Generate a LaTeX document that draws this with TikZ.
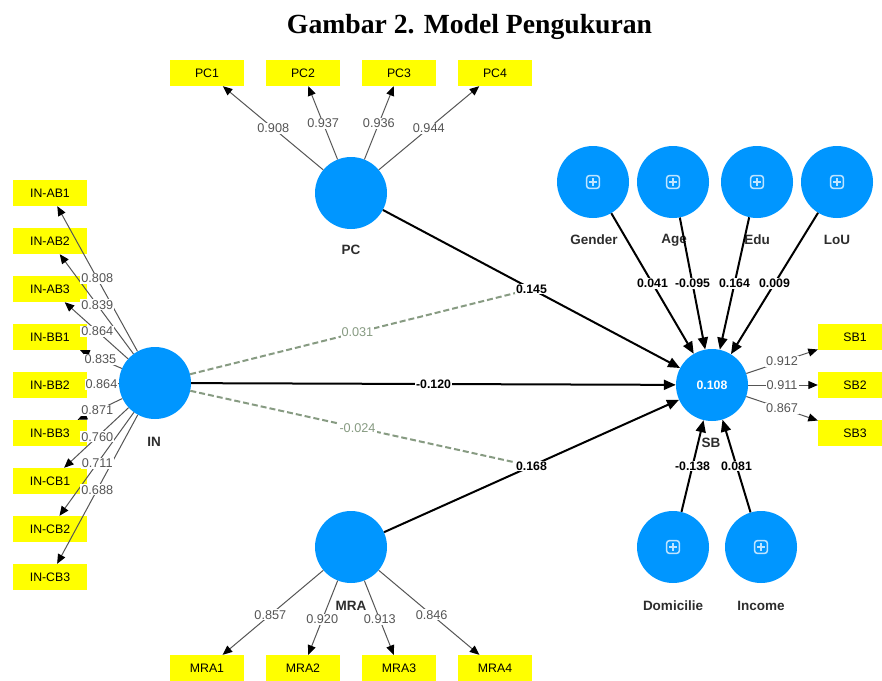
\documentclass[tikz,border=0pt]{standalone}
\usepackage{graphicx}
\usepackage{fontspec}
\setmainfont{Liberation Sans}
\newfontfamily\titlefont{Liberation Serif}
\usetikzlibrary{arrows.meta,calc}
\definecolor{pblue}{RGB}{0,150,255}
\definecolor{ylw}{RGB}{255,255,0}
\definecolor{lgray}{RGB}{85,85,85}
\definecolor{modg}{RGB}{135,155,130}
\definecolor{nmgray}{RGB}{45,45,45}
\tikzset{
 lat/.style={circle,fill=pblue,minimum size=72pt,inner sep=0pt},
 ind/.style={rectangle,fill=ylw,minimum width=74pt,minimum height=26pt,inner sep=0pt,font=\fontsize{12.3}{12.3}\selectfont},
 nm/.style={font=\fontsize{13.5}{13.5}\selectfont\bfseries,text=nmgray,inner sep=0pt},
 ld/.style={draw=lgray,line width=1pt,-{Triangle[length=9.5pt,width=8pt,color=black]}},
 ll/.style={fill=white,text=lgray,inner sep=1pt,font=\fontsize{12.7}{12.7}\selectfont},
 sp/.style={draw=black,line width=2pt,-{Triangle[length=12pt,width=10pt]}},
 sl/.style={fill=white,text=black,inner sep=1pt,font=\fontsize{12.3}{12.3}\selectfont\bfseries},
 md/.style={draw=modg,line width=2pt,dash pattern=on 6pt off 3pt},
 ml/.style={fill=white,text=modg,inner sep=1pt,font=\fontsize{12.7}{12.7}\selectfont},
 plusicon/.pic={
   \draw[white,opacity=0.75,line width=1.5pt,rounded corners=2.5pt] (-6.3,-6.3) rectangle (6.3,6.3);
   \draw[white,opacity=0.75,line width=1.5pt] (-3.8,0) -- (3.8,0) (0,-3.8) -- (0,3.8);
 }
}
\begin{document}
\begin{tikzpicture}[x=1pt,y=-1pt]
\useasboundingbox (0,0) rectangle (882,680);
\fill[white] (0,0) rectangle (882,680);

% title
\node[inner sep=0pt] (title) at (469.5,27) {\resizebox{365pt}{!}{\titlefont\bfseries Gambar 2. Model Pengukuran}};

% indicators
\node[ind] (pc1) at (207,73) {PC1};
\node[ind] (pc2) at (303,73) {PC2};
\node[ind] (pc3) at (399,73) {PC3};
\node[ind] (pc4) at (495,73) {PC4};
\node[ind] (mra1) at (207,668) {MRA1};
\node[ind] (mra2) at (303,668) {MRA2};
\node[ind] (mra3) at (399,668) {MRA3};
\node[ind] (mra4) at (495,668) {MRA4};
\node[ind] (sb1) at (855,337) {SB1};
\node[ind] (sb2) at (855,385) {SB2};
\node[ind] (sb3) at (855,433) {SB3};
\node[ind] (ab1) at (50,193) {IN-AB1};
\node[ind] (ab2) at (50,241) {IN-AB2};
\node[ind] (ab3) at (50,289) {IN-AB3};
\node[ind] (bb1) at (50,337) {IN-BB1};
\node[ind] (bb2) at (50,385) {IN-BB2};
\node[ind] (bb3) at (50,433) {IN-BB3};
\node[ind] (cb1) at (50,481) {IN-CB1};
\node[ind] (cb2) at (50,529) {IN-CB2};
\node[ind] (cb3) at (50,577) {IN-CB3};

% latent variables
\node[lat] (pc) at (351,193) {};
\node[lat] (in) at (155,383) {};
\node[lat] (mra) at (351,547) {};
\node[lat,text=white,font=\fontsize{12.3}{12.3}\selectfont\bfseries] (sb) at (712,385) {0.108};
\node[lat] (gen) at (593,182) {};
\node[lat] (age) at (673,182) {};
\node[lat] (edu) at (757,182) {};
\node[lat] (lou) at (837,182) {};
\node[lat] (dom) at (673,547) {};
\node[lat] (inc) at (761,547) {};
\foreach \m in {gen,age,edu,lou,dom,inc} \pic at (\m) {plusicon};

% names
\node[nm] (pcn) at (351,250) {PC};
\node[nm] (inn) at (154,442) {IN};
\node[nm] (mran) at (351,606) {MRA};
\node[nm] (sbn) at (711,443) {SB};
\node[nm] (genn) at (594,240) {Gender};
\node[nm] (agen) at (674,240) {Age};
\node[nm] (edun) at (757,240) {Edu};
\node[nm] (loun) at (837,240) {LoU};
\node[nm] (domn) at (673,606) {Domicilie};
\node[nm] (incn) at (761,606) {Income};

% loading arrows
\foreach \b in {pc1,pc2,pc3,pc4} \draw[ld] (pc) -- (\b);
\foreach \b in {mra1,mra2,mra3,mra4} \draw[ld] (mra) -- (\b);
\foreach \b in {sb1,sb2,sb3} \draw[ld] (sb) -- (\b);
\foreach \b in {ab1,ab2,ab3,bb1,bb2,bb3,cb1,cb2,cb3} \draw[ld] (in) -- (\b);

% loading labels
\path (pc.center) -- node[ll,pos=0.54] (l1) {0.908} (pc1.center);
\path (pc.center) -- node[ll,pos=0.58] (l2) {0.937} (pc2.center);
\path (pc.center) -- node[ll,pos=0.58] (l3) {0.936} (pc3.center);
\path (pc.center) -- node[ll,pos=0.54] (l4) {0.944} (pc4.center);
\path (mra.center) -- node[ll,pos=0.56] (l5) {0.857} (mra1.center);
\path (mra.center) -- node[ll,pos=0.60] (l6) {0.920} (mra2.center);
\path (mra.center) -- node[ll,pos=0.60] (l7) {0.913} (mra3.center);
\path (mra.center) -- node[ll,pos=0.56] (l8) {0.846} (mra4.center);
\path (sb.center) -- node[ll,pos=0.49] (l9) {0.912} (sb1.center);
\path (sb.center) -- node[ll,pos=0.49] (l10) {0.911} (sb2.center);
\path (sb.center) -- node[ll,pos=0.49] (l11) {0.867} (sb3.center);
\path (in.center) -- node[ll,pos=0.55] (l12) {0.808} (ab1.center);
\path (in.center) -- node[ll,pos=0.55] (l13) {0.839} (ab2.center);
\path (in.center) -- node[ll,pos=0.55] (l14) {0.864} (ab3.center);
\path (in.center) -- node[ll,pos=0.52] (l15) {0.835} (bb1.center);
\path (in.center) -- node[ll,pos=0.51] (l16) {0.864} (bb2.center);
\path (in.center) -- node[ll,pos=0.55] (l17) {0.871} (bb3.center);
\path (in.center) -- node[ll,pos=0.55] (l18) {0.760} (cb1.center);
\path (in.center) -- node[ll,pos=0.55] (l19) {0.711} (cb2.center);
\path (in.center) -- node[ll,pos=0.55] (l20) {0.688} (cb3.center);

% moderating effects
\coordinate (m1) at ($(pc)!0.5!(sb)$);
\coordinate (m2) at ($(mra)!0.5!(sb)$);
\draw[md] (in) -- node[ml,pos=0.49] (l21) {0.031} (m1);
\draw[md] (in) -- node[ml,pos=0.49] (l22) {-0.024} (m2);

% structural paths
\draw[sp] (pc) -- node[sl] (p1) {0.145} (sb);
\draw[sp] (in) -- node[sl] (p2) {-0.120} (sb);
\draw[sp] (mra) -- node[sl] (p3) {0.168} (sb);
\draw[sp] (gen) -- node[sl] (p4) {0.041} (sb);
\draw[sp] (age) -- node[sl] (p5) {-0.095} (sb);
\draw[sp] (edu) -- node[sl] (p6) {0.164} (sb);
\draw[sp] (lou) -- node[sl] (p7) {0.009} (sb);
\draw[sp] (dom) -- node[sl] (p8) {-0.138} (sb);
\draw[sp] (inc) -- node[sl] (p9) {0.081} (sb);
\end{tikzpicture}
\end{document}
